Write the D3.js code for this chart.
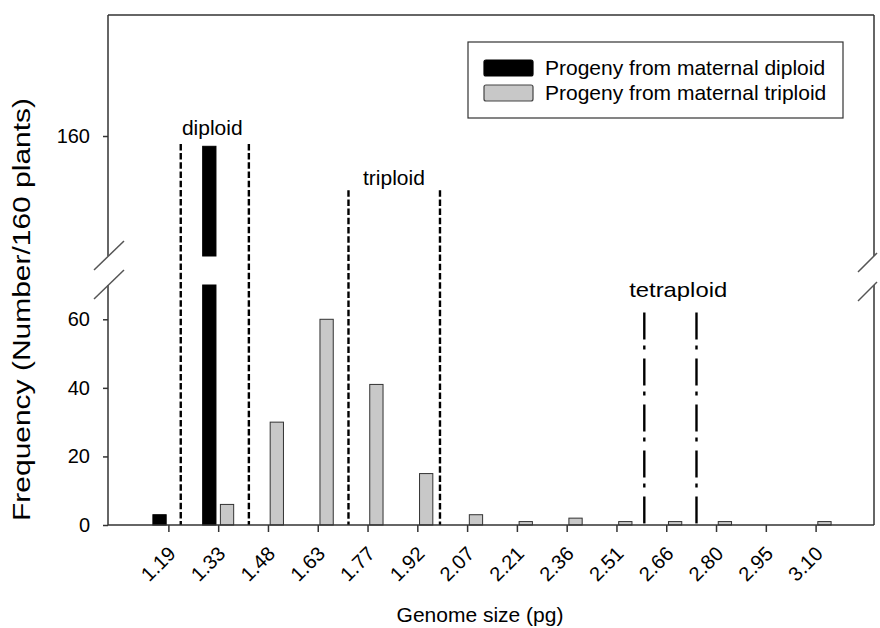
<!DOCTYPE html>
<html>
<head>
<meta charset="utf-8">
<script src="https://cdn.jsdelivr.net/npm/d3@7"></script>
<style>
    body { margin: 0; background: #fff; }
    svg { font-family: "Liberation Sans", Arial, sans-serif; }
</style>
</head>
<body>
<div id="chart"></div>
<script>

// genome size classes (pg) and number of plants in each
const genomeSizes = ["1.19", "1.33", "1.48", "1.63", "1.77", "1.92", "2.07",
    "2.21", "2.36", "2.51", "2.66", "2.80", "2.95", "3.10"];
const diploidProgeny = [3, 157, 0, 0, 0, 0, 0, 0, 0, 0, 0, 0, 0, 0];
const triploidProgeny = [0, 6, 30, 60, 41, 15, 3, 1, 2, 1, 1, 1, 0, 1];
const seriesNames = ["Progeny from maternal diploid", "Progeny from maternal triploid"];

const lowerTicks = [0, 20, 40, 60];
const upperTicks = [160];

// ploidy windows: limits in pg, top of the limit lines and label position
const ploidyLabels = ["diploid", "triploid", "tetraploid"];
const ploidyBounds = [[1.225, 1.426], [1.72, 1.99], [2.593, 2.747]];
const ploidyLineTop = [157.7, 144.2, 62];
const ploidyLabelX = [1.318, 1.854, 2.693];
const ploidyLabelY = [160.3, 145.7, 66.5];


let margin = { top: 15, right: 6, bottom: 103, left: 108 };
let width = 880 - margin.left - margin.right,
    height = 628 - margin.top - margin.bottom;

let svg = d3.select("#chart").append("svg")
    .attr("width", 880)
    .attr("height", 628)
    .append("g")
    .attr("transform", "translate(" + margin.left + "," + margin.top + ")");

let axisColor = "#333";

// scales - y axis is broken between 70 and 125
let breakLow = 70, breakHigh = 125;

let x = d3.scaleBand()
    .domain(genomeSizes)
    .range([36, 733]);

let xSeries = d3.scaleBand()
    .domain([0, 1])
    .range([-16, 15])
    .paddingInner(0.25);

let xPg = d3.scaleLinear()
    .domain([+genomeSizes[0], +genomeSizes[genomeSizes.length - 1]])
    .range([x(genomeSizes[0]) + x.bandwidth() / 2,
        x(genomeSizes[genomeSizes.length - 1]) + x.bandwidth() / 2]);

let yLow = d3.scaleLinear()
    .domain([0, breakLow])
    .range([height, height - 240]);

let yHigh = d3.scaleLinear()
    .domain([breakHigh, 195.3])
    .range([241, 0]);

function yAny(v) {
    return v <= breakLow ? yLow(v) : yHigh(v);
}

// bars
let bars = [];
genomeSizes.forEach((g, i) => {
    [diploidProgeny[i], triploidProgeny[i]].forEach((v, s) => {
        if (v <= 0) return;
        let x0 = x(g) + x.bandwidth() / 2 + xSeries(s);
        if (v <= breakLow) {
            bars.push({ s: s, x: x0, y0: yLow(v), y1: yLow(0) });
        } else {
            bars.push({ s: s, x: x0, y0: yLow(breakLow), y1: yLow(0) });
            bars.push({ s: s, x: x0, y0: yHigh(v), y1: yHigh(breakHigh) });
        }
    });
});

svg.selectAll(".bar")
    .data(bars)
    .enter().append("rect")
    .attr("class", "bar")
    .attr("x", d => d.x)
    .attr("y", d => d.y0)
    .attr("width", xSeries.bandwidth())
    .attr("height", d => d.y1 - d.y0)
    .attr("fill", d => d.s == 0 ? "#000" : "#c8c8c8")
    .attr("stroke", d => d.s == 0 ? "#000" : "#333")
    .attr("stroke-width", 1);

// ploidy limit lines
ploidyBounds.forEach((b, i) => {
    b.forEach(pg => {
        svg.append("line")
            .attr("x1", xPg(pg)).attr("x2", xPg(pg))
            .attr("y1", yAny(ploidyLineTop[i])).attr("y2", yLow(0))
            .attr("stroke", "#000")
            .attr("stroke-width", 2.4)
            .attr("stroke-dasharray", i < 2 ? "6.5,2.7" : "27,6,4,9");
    });
    svg.append("text")
        .attr("x", xPg(ploidyLabelX[i]))
        .attr("y", yAny(ploidyLabelY[i]))
        .attr("text-anchor", "middle")
        .attr("font-size", 21)
        .attr("textLength", i == 2 ? 98 : null)
        .attr("lengthAdjust", "spacingAndGlyphs")
        .text(ploidyLabels[i]);
});

// axes
let xAxis = d3.axisBottom(x).tickSize(7).tickSizeOuter(0);
let yAxisLow = d3.axisLeft(yLow).tickValues(lowerTicks).tickSize(5).tickPadding(13);
let yAxisHigh = d3.axisLeft(yHigh).tickValues(upperTicks).tickSize(5).tickPadding(13);

let gx = svg.append("g")
    .attr("class", "x-axis axis")
    .attr("transform", "translate(0," + height + ")")
    .call(xAxis);
gx.selectAll("text")
    .attr("x", 0).attr("y", 0).attr("dy", 0)
    .attr("transform", "translate(8,30) rotate(-45)")
    .style("text-anchor", "end");

let gyl = svg.append("g").attr("class", "y-axis axis").call(yAxisLow);
let gyh = svg.append("g").attr("class", "y-axis axis").call(yAxisHigh);

svg.selectAll(".axis .domain").remove();
svg.selectAll(".axis line").attr("stroke", axisColor).attr("stroke-width", 1.5);
svg.selectAll(".axis text").attr("font-size", 20).attr("fill", "#000")
    .attr("font-family", "Liberation Sans, Arial, sans-serif");

// frame with breaks on both sides
let frame = [
    [0, yLow(0), width, yLow(0)],
    [0, yHigh.range()[1], width, yHigh.range()[1]],
    [0, yLow(0), 0, yLow(breakLow)],
    [0, yHigh(breakHigh), 0, yHigh.range()[1]],
    [width, yLow(0), width, yLow(breakLow)],
    [width, yHigh(breakHigh), width, yHigh.range()[1]]
];
svg.selectAll(".frame")
    .data(frame)
    .enter().append("line")
    .attr("class", "frame")
    .attr("x1", d => d[0]).attr("y1", d => d[1])
    .attr("x2", d => d[2]).attr("y2", d => d[3])
    .attr("stroke", axisColor)
    .attr("stroke-width", 1.5);

// break marks
[yHigh(breakHigh), yLow(breakLow)].forEach(yb => {
    svg.append("line")
        .attr("x1", -14).attr("y1", yb + 14)
        .attr("x2", 16).attr("y2", yb - 15)
        .attr("stroke", "#555").attr("stroke-width", 1.5);
    svg.append("line")
        .attr("x1", width - 16).attr("y1", yb + 16)
        .attr("x2", width + 3).attr("y2", yb - 3)
        .attr("stroke", "#555").attr("stroke-width", 1.5);
});

// legend
let legend = svg.append("g").attr("transform", "translate(360,27)");
legend.append("rect")
    .attr("width", 375).attr("height", 76)
    .attr("fill", "#fff").attr("stroke", "#333").attr("stroke-width", 1.2);
seriesNames.forEach((n, i) => {
    legend.append("rect")
        .attr("x", 16).attr("y", 18 + i * 25)
        .attr("width", 49).attr("height", 16)
        .attr("rx", 2)
        .attr("fill", i == 0 ? "#000" : "#c8c8c8")
        .attr("stroke", i == 0 ? "#000" : "#444")
        .attr("stroke-width", 1.2);
    legend.append("text")
        .attr("x", 77).attr("y", 33 + i * 25)
        .attr("font-size", 21)
        .text(n);
});

// axis titles
svg.append("text")
    .attr("x", width / 2 - 11)
    .attr("y", height + 97)
    .attr("text-anchor", "middle")
    .attr("font-size", 21)
    .text("Genome size (pg)");

svg.append("text")
    .attr("transform", "translate(-78," + 294.5 + ") rotate(-90)")
    .attr("text-anchor", "middle")
    .attr("font-size", 23)
    .attr("textLength", 423)
    .attr("lengthAdjust", "spacingAndGlyphs")
    .text("Frequency (Number/160 plants)");

</script>
</body>
</html>
